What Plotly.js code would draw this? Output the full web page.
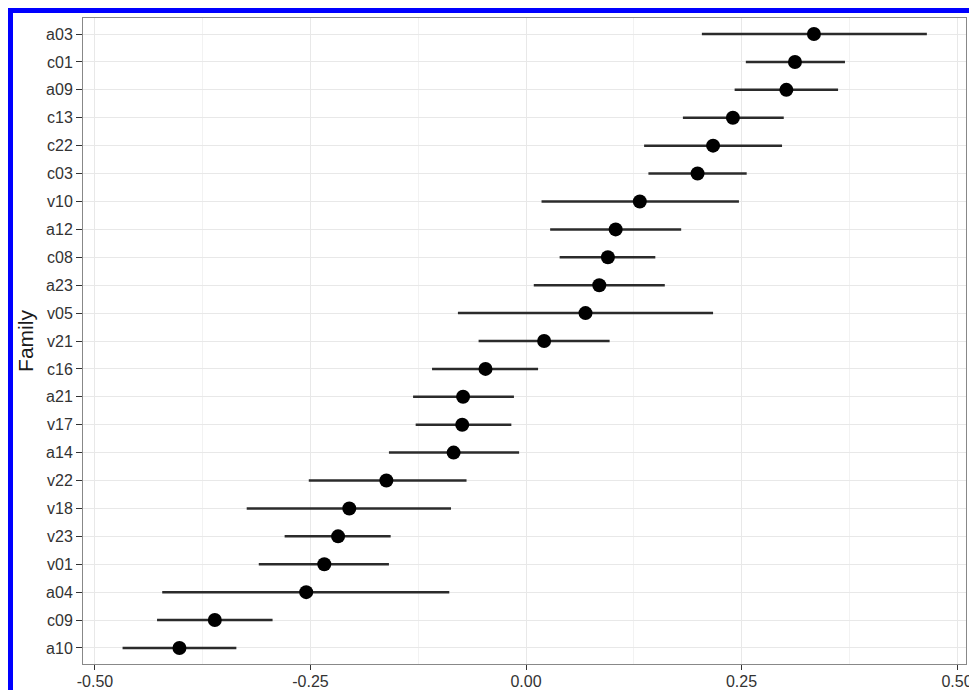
<!DOCTYPE html>
<html>
<head>
<meta charset="utf-8">
<script src="https://cdn.plot.ly/plotly-3.0.1.min.js"></script>
<style>
  html, body { margin: 0; padding: 0; background: #ffffff; }
  #chart { position: absolute; left: 0; top: 0; width: 969px; height: 690px; }
  #frame { position: absolute; left: 8px; top: 8px; right: 0; bottom: 0;
           border-top: 5px solid #0000ff; border-left: 5px solid #0000ff;
           pointer-events: none; }
</style>
</head>
<body>
<div id="chart"></div>
<div id="frame"></div>
<script>
// Families, listed top to bottom as in the chart
var families = ['a03','c01','a09','c13','c22','c03','v10','a12','c08','a23','v05','v21',
                'c16','a21','v17','a14','v22','v18','v23','v01','a04','c09','a10'];
// Point estimates
var estimate = [0.334,0.312,0.302,0.240,0.217,0.199,0.132,0.104,0.095,0.085,0.069,0.021,
                -0.047,-0.073,-0.074,-0.084,-0.162,-0.205,-0.218,-0.234,-0.255,-0.361,-0.402];
// Interval lower bounds
var lower = [0.204,0.255,0.242,0.182,0.137,0.142,0.018,0.028,0.039,0.009,-0.079,-0.055,
             -0.109,-0.131,-0.128,-0.159,-0.252,-0.324,-0.280,-0.310,-0.422,-0.428,-0.468];
// Interval upper bounds
var upper = [0.465,0.370,0.362,0.299,0.297,0.256,0.247,0.180,0.150,0.161,0.217,0.097,
             0.014,-0.014,-0.017,-0.008,-0.069,-0.087,-0.157,-0.159,-0.089,-0.294,-0.336];
// X tick values and labels
var xTickVals = [-0.5, -0.25, 0, 0.25, 0.5];
var xTickText = ['-0.50', '-0.25', '0.00', '0.25', '0.50'];
var xMinorVals = [-0.375, -0.125, 0.125, 0.375];

var plus = upper.map(function (u, i) { return u - estimate[i]; });
var minus = lower.map(function (l, i) { return estimate[i] - l; });

var trace = {
  type: 'scatter',
  mode: 'markers',
  x: estimate,
  y: families,
  marker: { color: '#000000', size: 14 },
  error_x: {
    type: 'data', symmetric: false,
    array: plus, arrayminus: minus,
    color: '#2b2b2b', thickness: 2.5, width: 0
  },
  cliponaxis: false,
  showlegend: false
};

var font = { family: 'Liberation Sans, Arial, sans-serif', size: 16, color: '#333333' };

var layout = {
  width: 969, height: 690,
  margin: { l: 83, r: 3, t: 18, b: 26, pad: 0 },
  paper_bgcolor: '#ffffff',
  plot_bgcolor: '#ffffff',
  font: font,
  showlegend: false,
  xaxis: {
    range: [-0.5139, 0.5104],
    tickmode: 'array', tickvals: xTickVals, ticktext: xTickText,
    ticks: 'outside', ticklen: 5, tickwidth: 1, tickcolor: '#333333',
    ticklabeloverflow: 'allow',
    ticklabelstandoff: -2,
    showgrid: true, gridcolor: '#e8e8e8', gridwidth: 1,
    minor: { tickmode: 'array', tickvals: xMinorVals, showgrid: true,
             gridcolor: '#f2f2f2', gridwidth: 1, ticks: '' },
    zeroline: false,
    showline: true, mirror: true, linecolor: '#888888', linewidth: 1,
    tickfont: font,
    automargin: false
  },
  yaxis: {
    type: 'category',
    categoryorder: 'array',
    categoryarray: families.slice().reverse(),
    range: [-0.575, 22.575],
    ticks: 'outside', ticklen: 6, tickwidth: 1, tickcolor: '#333333',
    showgrid: true, gridcolor: '#e8e8e8', gridwidth: 1,
    zeroline: false,
    showline: true, mirror: true, linecolor: '#888888', linewidth: 1,
    tickfont: font,
    title: { text: 'Family', font: { family: 'Liberation Sans, Arial, sans-serif', size: 21, color: '#1a1a1a' }, standoff: 6 },
    automargin: false
  }
};

Plotly.newPlot('chart', [trace], layout, { displayModeBar: false, staticPlot: true });
</script>
</body>
</html>
